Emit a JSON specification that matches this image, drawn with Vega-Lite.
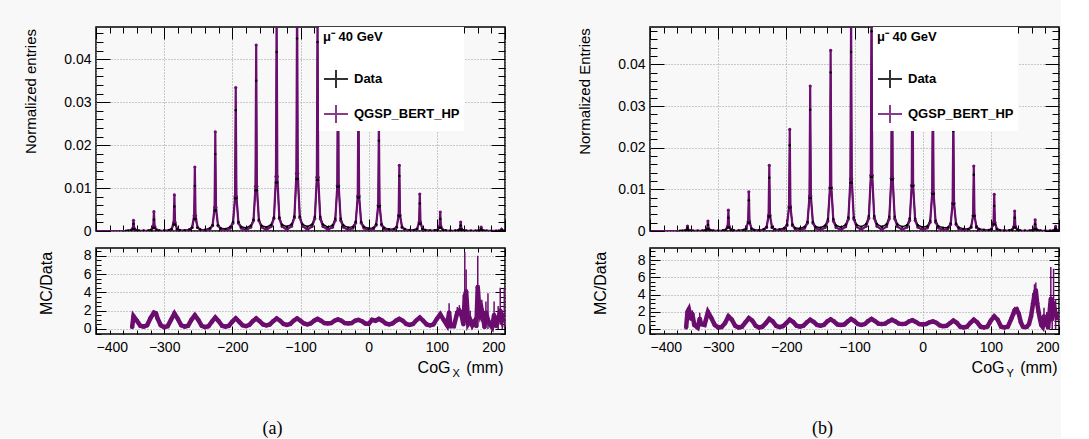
{
"$schema": "https://vega.github.io/schema/vega-lite/v6.json",
"background": "#f8f8f8",
"padding": {"left": 22, "top": 25, "right": 0, "bottom": 0},
"config": {
  "font": "Liberation Sans",
  "view": {"stroke": "black", "strokeWidth": 1.5, "fill": null},
  "axis": {"domain": false, "labelFont": "Liberation Sans", "labelFontSize": 14, "labelColor": "black", "titleFont": "Liberation Sans", "titleFontSize": 16, "titleFontWeight": "normal", "titleColor": "black", "tickColor": "black", "tickWidth": 1, "gridColor": "#9a9a9a", "gridDash": [1, 2], "gridWidth": 1}
},
"datasets": {
"ha": [
{"x":-400,"m":0,"d":0},{"x":-356,"m":0,"d":0},
{"x":-353,"m":0.00005,"d":0.00006},{"x":-349,"m":0.00014,"d":0.00013},{"x":-346,"m":0.0006,"d":0.00046},{"x":-345,"m":0.0025,"d":0.0017},{"x":-344,"m":0.0006,"d":0.00046},{"x":-341,"m":0.00014,"d":0.00013},{"x":-337,"m":0.00005,"d":0.00006},{"x":-330,"m":0.00003,"d":0.00005},
{"x":-323,"m":0.00009,"d":0.00009},{"x":-319,"m":0.00025,"d":0.0002},{"x":-316,"m":0.00108,"d":0.0007},{"x":-315,"m":0.0045,"d":0.0026},{"x":-314,"m":0.00108,"d":0.0007},{"x":-311,"m":0.00025,"d":0.0002},{"x":-307,"m":0.00009,"d":0.00009},{"x":-300,"m":0.00005,"d":0.0001},
{"x":-293,"m":0.00017,"d":0.0002},{"x":-289,"m":0.00046,"d":0.00043},{"x":-286,"m":0.002,"d":0.0015},{"x":-285,"m":0.0084,"d":0.0057},{"x":-284,"m":0.002,"d":0.0015},{"x":-281,"m":0.00046,"d":0.00043},{"x":-277,"m":0.00017,"d":0.0002},{"x":-270,"m":0.0001,"d":0.00015},
{"x":-263,"m":0.0003,"d":0.00037},{"x":-259,"m":0.00082,"d":0.00079},{"x":-256,"m":0.0036,"d":0.0028},{"x":-255,"m":0.0149,"d":0.0105},{"x":-254,"m":0.0036,"d":0.0028},{"x":-251,"m":0.00082,"d":0.00079},{"x":-247,"m":0.0003,"d":0.00037},{"x":-240,"m":0.00012,"d":0.0003},
{"x":-233,"m":0.00046,"d":0.00063},{"x":-229,"m":0.00127,"d":0.00134},{"x":-226,"m":0.0055,"d":0.0048},{"x":-225,"m":0.0231,"d":0.0179},{"x":-224,"m":0.0055,"d":0.0048},{"x":-221,"m":0.00127,"d":0.00134},{"x":-217,"m":0.00046,"d":0.00063},{"x":-210,"m":0.00015,"d":0.0005},
{"x":-203,"m":0.00067,"d":0.00098},{"x":-199,"m":0.00184,"d":0.0021},{"x":-196,"m":0.008,"d":0.0076},{"x":-195,"m":0.0334,"d":0.0281},{"x":-194,"m":0.008,"d":0.0076},{"x":-191,"m":0.00184,"d":0.0021},{"x":-187,"m":0.00067,"d":0.00098},{"x":-180,"m":0.0002,"d":0.0007},
{"x":-173,"m":0.00087,"d":0.00123},{"x":-169,"m":0.00238,"d":0.00263},{"x":-166,"m":0.0104,"d":0.0095},{"x":-165,"m":0.0433,"d":0.035},{"x":-164,"m":0.0104,"d":0.0095},{"x":-161,"m":0.00238,"d":0.00263},{"x":-157,"m":0.00087,"d":0.00123},{"x":-150,"m":0.00025,"d":0.0009},
{"x":-143,"m":0.00106,"d":0.00146},{"x":-139,"m":0.00292,"d":0.00313},{"x":-136,"m":0.0127,"d":0.0113},{"x":-135,"m":0.053,"d":0.0417},{"x":-134,"m":0.0127,"d":0.0113},{"x":-131,"m":0.00292,"d":0.00313},{"x":-127,"m":0.00106,"d":0.00146},{"x":-120,"m":0.0003,"d":0.001},
{"x":-113,"m":0.00112,"d":0.00157},{"x":-109,"m":0.00308,"d":0.00336},{"x":-106,"m":0.0134,"d":0.0121},{"x":-105,"m":0.056,"d":0.0448},{"x":-104,"m":0.0134,"d":0.0121},{"x":-101,"m":0.00308,"d":0.00336},{"x":-97,"m":0.00112,"d":0.00157},{"x":-90,"m":0.0003,"d":0.001},
{"x":-83,"m":0.00104,"d":0.00154},{"x":-79,"m":0.00286,"d":0.0033},{"x":-76,"m":0.0125,"d":0.0119},{"x":-75,"m":0.052,"d":0.044},{"x":-74,"m":0.0125,"d":0.0119},{"x":-71,"m":0.00286,"d":0.0033},{"x":-67,"m":0.00104,"d":0.00154},{"x":-60,"m":0.0003,"d":0.0009},
{"x":-53,"m":0.00088,"d":0.00133},{"x":-49,"m":0.00242,"d":0.00285},{"x":-46,"m":0.0106,"d":0.0103},{"x":-45,"m":0.044,"d":0.038},{"x":-44,"m":0.0106,"d":0.0103},{"x":-41,"m":0.00242,"d":0.00285},{"x":-37,"m":0.00088,"d":0.00133},{"x":-30,"m":0.00025,"d":0.0008},
{"x":-23,"m":0.00068,"d":0.001},{"x":-19,"m":0.00187,"d":0.00218},{"x":-16,"m":0.0082,"d":0.0078},{"x":-15,"m":0.034,"d":0.029},{"x":-14,"m":0.0082,"d":0.0078},{"x":-11,"m":0.00187,"d":0.00218},{"x":-7,"m":0.00068,"d":0.001},{"x":0,"m":0.0002,"d":0.0006},
{"x":7,"m":0.0005,"d":0.00074},{"x":11,"m":0.00138,"d":0.00158},{"x":14,"m":0.006,"d":0.0057},{"x":15,"m":0.025,"d":0.021},{"x":16,"m":0.006,"d":0.0057},{"x":19,"m":0.00138,"d":0.00158},{"x":23,"m":0.0005,"d":0.00074},{"x":30,"m":0.00015,"d":0.0004},
{"x":37,"m":0.00031,"d":0.00045},{"x":41,"m":0.00084,"d":0.00096},{"x":44,"m":0.0037,"d":0.0035},{"x":45,"m":0.0153,"d":0.0128},{"x":46,"m":0.0037,"d":0.0035},{"x":49,"m":0.00084,"d":0.00096},{"x":53,"m":0.00031,"d":0.00045},{"x":60,"m":0.0001,"d":0.00025},
{"x":67,"m":0.00017,"d":0.00022},{"x":71,"m":0.00047,"d":0.00048},{"x":74,"m":0.0021,"d":0.0017},{"x":75,"m":0.0086,"d":0.0064},{"x":76,"m":0.0021,"d":0.0017},{"x":79,"m":0.00047,"d":0.00048},{"x":83,"m":0.00017,"d":0.00022},{"x":90,"m":0.00006,"d":0.00012},
{"x":97,"m":0.00009,"d":0.0001},{"x":101,"m":0.00024,"d":0.00021},{"x":104,"m":0.00106,"d":0.00076},{"x":105,"m":0.0044,"d":0.0028},{"x":106,"m":0.00106,"d":0.00076},{"x":109,"m":0.00024,"d":0.00021},{"x":113,"m":0.00009,"d":0.0001},{"x":120,"m":0.00003,"d":0.00005},
{"x":127,"m":0.00004,"d":0.00005},{"x":131,"m":0.00012,"d":0.0001},{"x":134,"m":0.0005,"d":0.00035},{"x":135,"m":0.0021,"d":0.0013},{"x":136,"m":0.0005,"d":0.00035},{"x":139,"m":0.00012,"d":0.0001},{"x":143,"m":0.00004,"d":0.00005},{"x":150,"m":0.00002,"d":0.00003},
{"x":157,"m":0.00002,"d":0.00002},{"x":161,"m":0.00005,"d":0.00004},{"x":164,"m":0.00022,"d":0.00014},{"x":165,"m":0.0009,"d":0.0005},{"x":166,"m":0.00022,"d":0.00014},{"x":169,"m":0.00005,"d":0.00004},{"x":173,"m":0.00002,"d":0.00002},{"x":180,"m":0.00001,"d":0.00001},
{"x":187,"m":0.00001,"d":0.00001},{"x":191,"m":0.00002,"d":0.00002},{"x":194,"m":0.0001,"d":0.00006},{"x":195,"m":0.0004,"d":0.0002},{"x":196,"m":0.0001,"d":0.00006},{"x":199,"m":0.00002,"d":0.00002},{"x":200,"m":0.00001,"d":0.00001}
],
"hb": [
{"x":-400,"m":0,"d":0},{"x":-356,"m":0,"d":0},
{"x":-353,"m":0.00002,"d":0.00003},{"x":-349,"m":0.00007,"d":0.00006},{"x":-346,"m":0.00029,"d":0.00022},{"x":-345,"m":0.0012,"d":0.0008},{"x":-344,"m":0.00029,"d":0.00022},{"x":-341,"m":0.00007,"d":0.00006},{"x":-337,"m":0.00002,"d":0.00003},{"x":-330,"m":0.00002,"d":0.00003},
{"x":-323,"m":0.00005,"d":0.00005},{"x":-319,"m":0.00013,"d":0.00011},{"x":-316,"m":0.00058,"d":0.0004},{"x":-315,"m":0.0024,"d":0.0015},{"x":-314,"m":0.00058,"d":0.0004},{"x":-311,"m":0.00013,"d":0.00011},{"x":-307,"m":0.00005,"d":0.00005},{"x":-300,"m":0.00003,"d":0.00006},
{"x":-293,"m":0.0001,"d":0.00011},{"x":-289,"m":0.00028,"d":0.00024},{"x":-286,"m":0.0012,"d":0.00086},{"x":-285,"m":0.005,"d":0.0032},{"x":-284,"m":0.0012,"d":0.00086},{"x":-281,"m":0.00028,"d":0.00024},{"x":-277,"m":0.0001,"d":0.00011},{"x":-270,"m":0.00006,"d":0.0001},
{"x":-263,"m":0.00019,"d":0.00026},{"x":-259,"m":0.00052,"d":0.00056},{"x":-256,"m":0.00226,"d":0.002},{"x":-255,"m":0.0094,"d":0.0074},{"x":-254,"m":0.00226,"d":0.002},{"x":-251,"m":0.00052,"d":0.00056},{"x":-247,"m":0.00019,"d":0.00026},{"x":-240,"m":0.0001,"d":0.0002},
{"x":-233,"m":0.00032,"d":0.00045},{"x":-229,"m":0.00087,"d":0.00096},{"x":-226,"m":0.0038,"d":0.0035},{"x":-225,"m":0.0158,"d":0.0128},{"x":-224,"m":0.0038,"d":0.0035},{"x":-221,"m":0.00087,"d":0.00096},{"x":-217,"m":0.00032,"d":0.00045},{"x":-210,"m":0.00012,"d":0.0004},
{"x":-203,"m":0.00049,"d":0.00072},{"x":-199,"m":0.00134,"d":0.00155},{"x":-196,"m":0.0059,"d":0.0056},{"x":-195,"m":0.0244,"d":0.0206},{"x":-194,"m":0.0059,"d":0.0056},{"x":-191,"m":0.00134,"d":0.00155},{"x":-187,"m":0.00049,"d":0.00072},{"x":-180,"m":0.00015,"d":0.0006},
{"x":-173,"m":0.0007,"d":0.00102},{"x":-169,"m":0.00191,"d":0.00218},{"x":-166,"m":0.0084,"d":0.0079},{"x":-165,"m":0.0348,"d":0.0291},{"x":-164,"m":0.0084,"d":0.0079},{"x":-161,"m":0.00191,"d":0.00218},{"x":-157,"m":0.0007,"d":0.00102},{"x":-150,"m":0.0002,"d":0.0008},
{"x":-143,"m":0.00087,"d":0.00133},{"x":-139,"m":0.00239,"d":0.00286},{"x":-136,"m":0.0104,"d":0.0103},{"x":-135,"m":0.0434,"d":0.0381},{"x":-134,"m":0.0104,"d":0.0103},{"x":-131,"m":0.00239,"d":0.00286},{"x":-127,"m":0.00087,"d":0.00133},{"x":-120,"m":0.00025,"d":0.0009},
{"x":-113,"m":0.00104,"d":0.0015},{"x":-109,"m":0.00286,"d":0.00323},{"x":-106,"m":0.0125,"d":0.0116},{"x":-105,"m":0.052,"d":0.043},{"x":-104,"m":0.0125,"d":0.0116},{"x":-101,"m":0.00286,"d":0.00323},{"x":-97,"m":0.00104,"d":0.0015},{"x":-90,"m":0.0003,"d":0.001},
{"x":-83,"m":0.00112,"d":0.00168},{"x":-79,"m":0.00308,"d":0.0036},{"x":-76,"m":0.0134,"d":0.013},{"x":-75,"m":0.056,"d":0.048},{"x":-74,"m":0.0134,"d":0.013},{"x":-71,"m":0.00308,"d":0.0036},{"x":-67,"m":0.00112,"d":0.00168},{"x":-60,"m":0.0003,"d":0.001},
{"x":-53,"m":0.00106,"d":0.00161},{"x":-49,"m":0.00292,"d":0.00345},{"x":-46,"m":0.0127,"d":0.0124},{"x":-45,"m":0.053,"d":0.046},{"x":-44,"m":0.0127,"d":0.0124},{"x":-41,"m":0.00292,"d":0.00345},{"x":-37,"m":0.00106,"d":0.00161},{"x":-30,"m":0.0003,"d":0.001},
{"x":-23,"m":0.00092,"d":0.0014},{"x":-19,"m":0.00253,"d":0.003},{"x":-16,"m":0.011,"d":0.0108},{"x":-15,"m":0.046,"d":0.04},{"x":-14,"m":0.011,"d":0.0108},{"x":-11,"m":0.00253,"d":0.003},{"x":-7,"m":0.00092,"d":0.0014},{"x":0,"m":0.00025,"d":0.0009},
{"x":7,"m":0.00076,"d":0.00116},{"x":11,"m":0.00209,"d":0.00248},{"x":14,"m":0.0091,"d":0.0089},{"x":15,"m":0.038,"d":0.033},{"x":16,"m":0.0091,"d":0.0089},{"x":19,"m":0.00209,"d":0.00248},{"x":23,"m":0.00076,"d":0.00116},{"x":30,"m":0.0002,"d":0.0008},
{"x":37,"m":0.00056,"d":0.00084},{"x":41,"m":0.00154,"d":0.0018},{"x":44,"m":0.0067,"d":0.0065},{"x":45,"m":0.028,"d":0.024},{"x":46,"m":0.0067,"d":0.0065},{"x":49,"m":0.00154,"d":0.0018},{"x":53,"m":0.00056,"d":0.00084},{"x":60,"m":0.00015,"d":0.0005},
{"x":67,"m":0.00031,"d":0.00047},{"x":71,"m":0.00086,"d":0.00101},{"x":74,"m":0.0037,"d":0.0036},{"x":75,"m":0.0156,"d":0.0135},{"x":76,"m":0.0037,"d":0.0036},{"x":79,"m":0.00086,"d":0.00101},{"x":83,"m":0.00031,"d":0.00047},{"x":90,"m":0.0001,"d":0.0003},
{"x":97,"m":0.00018,"d":0.00021},{"x":101,"m":0.00048,"d":0.00045},{"x":104,"m":0.0021,"d":0.0016},{"x":105,"m":0.0088,"d":0.006},{"x":106,"m":0.0021,"d":0.0016},{"x":109,"m":0.00048,"d":0.00045},{"x":113,"m":0.00018,"d":0.00021},{"x":120,"m":0.00005,"d":0.00012},
{"x":127,"m":0.0001,"d":0.00011},{"x":131,"m":0.00026,"d":0.00024},{"x":134,"m":0.00115,"d":0.00086},{"x":135,"m":0.0048,"d":0.0032},{"x":136,"m":0.00115,"d":0.00086},{"x":139,"m":0.00026,"d":0.00024},{"x":143,"m":0.0001,"d":0.00011},{"x":150,"m":0.00003,"d":0.00006},
{"x":157,"m":0.00005,"d":0.00006},{"x":161,"m":0.00015,"d":0.00012},{"x":164,"m":0.00065,"d":0.00043},{"x":165,"m":0.0027,"d":0.0016},{"x":166,"m":0.00065,"d":0.00043},{"x":169,"m":0.00015,"d":0.00012},{"x":173,"m":0.00005,"d":0.00006},{"x":180,"m":0.00002,"d":0.00003},
{"x":187,"m":0.00002,"d":0.00002},{"x":191,"m":0.00006,"d":0.00005},{"x":194,"m":0.00026,"d":0.00016},{"x":195,"m":0.0011,"d":0.0006},{"x":196,"m":0.00026,"d":0.00016},{"x":199,"m":0.00006,"d":0.00005},{"x":200,"m":0.00001,"d":0.00001}
],
"ra": [
{"x":-347,"r":0.2},{"x":-345,"r":1.4},{"x":-340,"r":0.9},{"x":-335,"r":0.35},{"x":-330,"r":0.25},{"x":-325,"r":0.4},{"x":-320,"r":1.2},{"x":-315,"r":1.8},{"x":-312,"r":1.7},{"x":-310,"r":1.2},
{"x":-305,"r":0.4},{"x":-300,"r":0.2},{"x":-295,"r":0.3},{"x":-290,"r":1.0},{"x":-285,"r":1.7},{"x":-280,"r":1.1},{"x":-275,"r":0.4},{"x":-270,"r":0.25},{"x":-265,"r":0.35},{"x":-260,"r":1.0},
{"x":-255,"r":1.5},{"x":-250,"r":1.0},{"x":-245,"r":0.35},{"x":-240,"r":0.2},{"x":-235,"r":0.3},{"x":-230,"r":0.8},{"x":-225,"r":1.25},{"x":-220,"r":0.85},{"x":-215,"r":0.35},{"x":-210,"r":0.25},
{"x":-205,"r":0.35},{"x":-200,"r":0.8},{"x":-195,"r":1.15},{"x":-190,"r":0.8},{"x":-185,"r":0.4},{"x":-180,"r":0.3},{"x":-175,"r":0.45},{"x":-170,"r":0.85},{"x":-165,"r":1.15},{"x":-160,"r":0.85},
{"x":-155,"r":0.5},{"x":-150,"r":0.4},{"x":-145,"r":0.5},{"x":-140,"r":0.85},{"x":-135,"r":1.15},{"x":-130,"r":0.9},{"x":-125,"r":0.55},{"x":-120,"r":0.45},{"x":-115,"r":0.55},{"x":-110,"r":0.9},
{"x":-105,"r":1.15},{"x":-100,"r":0.9},{"x":-95,"r":0.6},{"x":-90,"r":0.5},{"x":-85,"r":0.6},{"x":-80,"r":0.9},{"x":-75,"r":1.1},{"x":-70,"r":0.9},{"x":-65,"r":0.65},{"x":-60,"r":0.6},
{"x":-55,"r":0.65},{"x":-50,"r":0.9},{"x":-45,"r":1.05},{"x":-40,"r":0.9},{"x":-35,"r":0.65},{"x":-30,"r":0.6},{"x":-25,"r":0.65},{"x":-20,"r":0.9},{"x":-15,"r":1.0},{"x":-10,"r":0.85},
{"x":-5,"r":0.6},{"x":0,"r":0.55},{"x":5,"r":1.0},{"x":10,"r":0.9},{"x":15,"r":1.1},{"x":20,"r":0.9},{"x":25,"r":0.6},{"x":30,"r":0.5},{"x":35,"r":0.6},{"x":40,"r":0.9},
{"x":45,"r":1.1},{"x":50,"r":0.9},{"x":55,"r":0.55},{"x":60,"r":0.45},{"x":65,"r":0.55},{"x":70,"r":0.95},{"x":75,"r":1.25},{"x":80,"r":0.9},{"x":85,"r":0.5},{"x":90,"r":0.4},
{"x":95,"r":0.5},{"x":100,"r":1.1},{"x":105,"r":1.6},{"x":110,"r":1.0},{"x":115,"r":0.4},{"x":118,"r":1.8},{"x":120,"r":0.3},{"x":125,"r":0.3},{"x":130,"r":1.8},{"x":133,"r":2.0},
{"x":136,"r":1.6},{"x":139,"r":0.5},{"x":141,"r":3.6},{"x":143,"r":4.1},{"x":146,"r":0.6},{"x":149,"r":1.0},{"x":152,"r":0.4},{"x":155,"r":0.8},{"x":158,"r":0.3},{"x":160,"r":4.6},
{"x":162,"r":2.5},{"x":164,"r":1.6},{"x":166,"r":2.0},{"x":168,"r":1.2},{"x":170,"r":0.2},{"x":172,"r":1.8},{"x":175,"r":1.0},{"x":178,"r":0.5},{"x":181,"r":0.2},{"x":184,"r":1.5},
{"x":187,"r":0.3},{"x":190,"r":1.0},{"x":193,"r":2.0},{"x":196,"r":1.0},{"x":199,"r":1.5}
],
"rb": [
{"x":-347,"r":0.2},{"x":-345,"r":2.0},{"x":-343,"r":2.3},{"x":-340,"r":1.2},{"x":-338,"r":1.8},{"x":-335,"r":0.5},{"x":-330,"r":0.2},{"x":-327,"r":1.2},{"x":-325,"r":0.6},{"x":-320,"r":0.5},
{"x":-315,"r":2.0},{"x":-310,"r":1.3},{"x":-305,"r":0.5},{"x":-300,"r":0.2},{"x":-295,"r":0.25},{"x":-290,"r":0.7},{"x":-285,"r":1.5},{"x":-280,"r":1.1},{"x":-275,"r":0.4},{"x":-270,"r":0.2},
{"x":-265,"r":0.3},{"x":-260,"r":0.8},{"x":-255,"r":1.3},{"x":-250,"r":1.0},{"x":-245,"r":0.4},{"x":-240,"r":0.2},{"x":-235,"r":0.3},{"x":-230,"r":0.7},{"x":-225,"r":1.2},{"x":-220,"r":0.9},
{"x":-215,"r":0.4},{"x":-210,"r":0.25},{"x":-205,"r":0.35},{"x":-200,"r":0.7},{"x":-195,"r":1.1},{"x":-190,"r":0.85},{"x":-185,"r":0.4},{"x":-180,"r":0.3},{"x":-175,"r":0.4},{"x":-170,"r":0.8},
{"x":-165,"r":1.1},{"x":-160,"r":0.85},{"x":-155,"r":0.5},{"x":-150,"r":0.4},{"x":-145,"r":0.5},{"x":-140,"r":0.9},{"x":-135,"r":1.15},{"x":-130,"r":0.9},{"x":-125,"r":0.55},{"x":-120,"r":0.5},
{"x":-115,"r":0.55},{"x":-110,"r":0.9},{"x":-105,"r":1.2},{"x":-100,"r":0.95},{"x":-95,"r":0.6},{"x":-90,"r":0.5},{"x":-85,"r":0.6},{"x":-80,"r":0.95},{"x":-75,"r":1.2},{"x":-70,"r":0.95},
{"x":-65,"r":0.65},{"x":-60,"r":0.6},{"x":-55,"r":0.65},{"x":-50,"r":0.9},{"x":-45,"r":1.1},{"x":-40,"r":0.9},{"x":-35,"r":0.65},{"x":-30,"r":0.6},{"x":-25,"r":0.65},{"x":-20,"r":0.9},
{"x":-15,"r":1.05},{"x":-10,"r":0.85},{"x":-5,"r":0.6},{"x":0,"r":0.55},{"x":5,"r":0.6},{"x":10,"r":0.8},{"x":15,"r":0.9},{"x":20,"r":0.75},{"x":25,"r":0.45},{"x":30,"r":0.35},
{"x":35,"r":0.4},{"x":40,"r":0.7},{"x":45,"r":1.0},{"x":50,"r":0.75},{"x":55,"r":0.3},{"x":60,"r":0.2},{"x":65,"r":0.3},{"x":70,"r":0.75},{"x":75,"r":1.1},{"x":80,"r":0.8},
{"x":85,"r":0.3},{"x":90,"r":0.2},{"x":95,"r":0.3},{"x":100,"r":1.0},{"x":105,"r":1.5},{"x":110,"r":1.1},{"x":115,"r":0.3},{"x":120,"r":0.2},{"x":125,"r":0.3},{"x":130,"r":1.2},
{"x":135,"r":2.2},{"x":138,"r":2.3},{"x":141,"r":1.8},{"x":144,"r":0.8},{"x":147,"r":0.3},{"x":150,"r":0.25},{"x":153,"r":0.3},{"x":156,"r":0.6},{"x":159,"r":1.5},{"x":162,"r":3.0},
{"x":164,"r":4.0},{"x":166,"r":4.5},{"x":168,"r":3.0},{"x":170,"r":2.0},{"x":172,"r":1.2},{"x":174,"r":0.5},{"x":176,"r":0.3},{"x":178,"r":1.5},{"x":180,"r":0.5},{"x":182,"r":1.0},
{"x":184,"r":0.2},{"x":186,"r":1.8},{"x":188,"r":3.5},{"x":190,"r":1.2},{"x":192,"r":3.0},{"x":195,"r":1.8},{"x":198,"r":1.3},{"x":200,"r":1.3}
],
"ea": [
{"x":118,"r":1.8,"lo":1.2,"hi":2.8},{"x":130,"r":1.8,"lo":1.2,"hi":2.4},{"x":133,"r":2.0,"lo":1.4,"hi":2.6},{"x":141,"r":3.6,"lo":1.5,"hi":8.4},{"x":143,"r":4.1,"lo":1.0,"hi":6.5},{"x":149,"r":1.0,"lo":0.3,"hi":2.0},{"x":160,"r":4.6,"lo":1.5,"hi":8.0},{"x":162,"r":2.5,"lo":1.2,"hi":4.0},
{"x":166,"r":2.0,"lo":0.8,"hi":3.2},{"x":172,"r":1.8,"lo":0.5,"hi":3.0},{"x":175,"r":1.0,"lo":0,"hi":3.9},{"x":184,"r":1.5,"lo":0.3,"hi":3.0},{"x":190,"r":1.0,"lo":0,"hi":2.5},{"x":193,"r":2.0,"lo":0.5,"hi":4.5},{"x":196,"r":1.0,"lo":0,"hi":2.0},{"x":199,"r":1.5,"lo":0.2,"hi":4.5}
],
"eb": [
{"x":-343,"r":2.3,"lo":1.5,"hi":2.5},{"x":-338,"r":1.8,"lo":1.0,"hi":2.2},{"x":-327,"r":1.2,"lo":0.9,"hi":1.9},{"x":135,"r":2.2,"lo":1.6,"hi":2.6},{"x":138,"r":2.3,"lo":1.8,"hi":2.6},{"x":162,"r":3.0,"lo":2.0,"hi":4.2},{"x":164,"r":4.0,"lo":2.8,"hi":5.2},{"x":166,"r":4.5,"lo":3.5,"hi":5.4},
{"x":168,"r":3.0,"lo":2.0,"hi":4.5},{"x":178,"r":1.5,"lo":0.5,"hi":2.5},{"x":182,"r":1.0,"lo":0,"hi":2.0},{"x":186,"r":1.8,"lo":0,"hi":3.0},{"x":188,"r":3.5,"lo":0.8,"hi":7.2},{"x":190,"r":1.2,"lo":0,"hi":2.5},{"x":192,"r":3.0,"lo":1.0,"hi":7.0},{"x":195,"r":1.8,"lo":0,"hi":3.5}
]
},
"bounds": "flush",
"columns": 2,
"spacing": {"row": 17, "column": 145},
"resolve": {"scale": {"color": "independent"}, "legend": {"color": "independent"}},
"concat": [
{
"width": 409, "height": 204,
"data": {"name": "ha"},
"layer": [
{"mark": {"type": "line", "strokeWidth": 1.4, "clip": true},
 "encoding": {
  "x": {"field": "x", "type": "quantitative", "scale": {"domain": [-400, 200], "nice": false, "zero": false}, "axis": {"orient": "bottom", "values": [-400, -300, -200, -100, 0, 100, 200], "labels": false, "tickSize": -12, "grid": true, "title": null}},
  "y": {"field": "d", "type": "quantitative", "scale": {"domain": [0, 0.0475], "nice": false, "zero": false}, "axis": {"orient": "left", "values": [0, 0.01, 0.02, 0.03, 0.04], "format": "~g", "tickSize": -14, "labelPadding": 19, "grid": true, "title": "Normalized entries", "titleFontSize": 15, "titleX": -66, "titleY": 64, "titleAngle": 270, "titleAlign": "center", "titleBaseline": "middle"}},
  "color": {"datum": "Data", "type": "nominal", "scale": {"domain": ["Data", "QGSP_BERT_HP"], "range": ["black", "#6b0d6e"]},
   "legend": {"orient": "none", "legendX": 223, "legendY": 0, "title": "\u03bc\u207b 40 GeV", "fillColor": "white", "padding": 4, "symbolType": "M-1,0H1M0,-0.75V0.75", "symbolSize": 576, "symbolStrokeWidth": 2, "symbolOpacity": 0.8, "rowPadding": 9, "titlePadding": 22, "labelOffset": 5, "labelFont": "Liberation Sans", "labelFontSize": 13, "labelFontWeight": "bold", "labelColor": "black", "titleFont": "Liberation Sans", "titleFontSize": 13, "titleFontWeight": "bold", "titleColor": "black"}}
 }},
{"mark": {"type": "line", "strokeWidth": 2.2, "clip": true},
 "encoding": {
  "x": {"field": "x", "type": "quantitative", "scale": {"domain": [-400, 200], "nice": false, "zero": false}, "axis": {"orient": "bottom", "values": [-380, -360, -340, -320, -280, -260, -240, -220, -180, -160, -140, -120, -80, -60, -40, -20, 20, 40, 60, 80, 120, 140, 160, 180], "labels": false, "tickSize": -6, "grid": false, "title": null}},
  "y": {"field": "m", "type": "quantitative", "scale": {"domain": [0, 0.0475], "nice": false, "zero": false}, "axis": {"orient": "left", "values": [0.002, 0.004, 0.006, 0.008, 0.012, 0.014, 0.016, 0.018, 0.022, 0.024, 0.026, 0.028, 0.032, 0.034, 0.036, 0.038, 0.042, 0.044, 0.046], "labels": false, "tickSize": -7, "grid": false, "title": null}},
  "color": {"datum": "QGSP_BERT_HP", "type": "nominal", "scale": {"domain": ["Data", "QGSP_BERT_HP"], "range": ["black", "#6b0d6e"]},
   "legend": {"orient": "none", "legendX": 223, "legendY": 0, "title": "\u03bc\u207b 40 GeV", "fillColor": "white", "padding": 4, "symbolType": "M-1,0H1M0,-0.75V0.75", "symbolSize": 576, "symbolStrokeWidth": 2, "symbolOpacity": 0.8, "rowPadding": 9, "titlePadding": 22, "labelOffset": 5, "labelFont": "Liberation Sans", "labelFontSize": 13, "labelFontWeight": "bold", "labelColor": "black", "titleFont": "Liberation Sans", "titleFontSize": 13, "titleFontWeight": "bold", "titleColor": "black"}}
 }},
{"mark": {"type": "point", "filled": true, "size": 10, "opacity": 1, "color": "#6b0d6e", "clip": true},
 "encoding": {
  "x": {"field": "x", "type": "quantitative", "scale": {"domain": [-400, 200], "nice": false, "zero": false}, "axis": {"orient": "top", "values": [-400, -300, -200, -100, 0, 100, 200], "labels": false, "tickSize": -12, "grid": false, "title": null}},
  "y": {"field": "m", "type": "quantitative", "scale": {"domain": [0, 0.0475], "nice": false, "zero": false}, "axis": {"orient": "right", "values": [0, 0.01, 0.02, 0.03, 0.04], "labels": false, "tickSize": -14, "grid": false, "title": null}}
 }},
{"mark": {"type": "point", "filled": true, "size": 6, "opacity": 1, "color": "black", "clip": true},
 "encoding": {
  "x": {"field": "x", "type": "quantitative", "scale": {"domain": [-400, 200], "nice": false, "zero": false}, "axis": {"orient": "top", "values": [-380, -360, -340, -320, -280, -260, -240, -220, -180, -160, -140, -120, -80, -60, -40, -20, 20, 40, 60, 80, 120, 140, 160, 180], "labels": false, "tickSize": -6, "grid": false, "title": null}},
  "y": {"field": "d", "type": "quantitative", "scale": {"domain": [0, 0.0475], "nice": false, "zero": false}, "axis": {"orient": "right", "values": [0.002, 0.004, 0.006, 0.008, 0.012, 0.014, 0.016, 0.018, 0.022, 0.024, 0.026, 0.028, 0.032, 0.034, 0.036, 0.038, 0.042, 0.044, 0.046], "labels": false, "tickSize": -7, "grid": false, "title": null}}
 }}
],
"resolve": {"axis": {"x": "independent", "y": "independent"}}
},
{
"width": 409, "height": 204,
"data": {"name": "hb"},
"layer": [
{"mark": {"type": "line", "strokeWidth": 1.4, "clip": true},
 "encoding": {
  "x": {"field": "x", "type": "quantitative", "scale": {"domain": [-400, 200], "nice": false, "zero": false}, "axis": {"orient": "bottom", "values": [-400, -300, -200, -100, 0, 100, 200], "labels": false, "tickSize": -12, "grid": true, "title": null}},
  "y": {"field": "d", "type": "quantitative", "scale": {"domain": [0, 0.049], "nice": false, "zero": false}, "axis": {"orient": "left", "values": [0, 0.01, 0.02, 0.03, 0.04], "format": "~g", "tickSize": -14, "labelPadding": 19, "grid": true, "title": "Normalized Entries", "titleFontSize": 15, "titleX": -66, "titleY": 64, "titleAngle": 270, "titleAlign": "center", "titleBaseline": "middle"}},
  "color": {"datum": "Data", "type": "nominal", "scale": {"domain": ["Data", "QGSP_BERT_HP"], "range": ["black", "#6b0d6e"]},
   "legend": {"orient": "none", "legendX": 223, "legendY": 0, "title": "\u03bc\u207b 40 GeV", "fillColor": "white", "padding": 4, "symbolType": "M-1,0H1M0,-0.75V0.75", "symbolSize": 576, "symbolStrokeWidth": 2, "symbolOpacity": 0.8, "rowPadding": 9, "titlePadding": 22, "labelOffset": 5, "labelFont": "Liberation Sans", "labelFontSize": 13, "labelFontWeight": "bold", "labelColor": "black", "titleFont": "Liberation Sans", "titleFontSize": 13, "titleFontWeight": "bold", "titleColor": "black"}}
 }},
{"mark": {"type": "line", "strokeWidth": 2.2, "clip": true},
 "encoding": {
  "x": {"field": "x", "type": "quantitative", "scale": {"domain": [-400, 200], "nice": false, "zero": false}, "axis": {"orient": "bottom", "values": [-380, -360, -340, -320, -280, -260, -240, -220, -180, -160, -140, -120, -80, -60, -40, -20, 20, 40, 60, 80, 120, 140, 160, 180], "labels": false, "tickSize": -6, "grid": false, "title": null}},
  "y": {"field": "m", "type": "quantitative", "scale": {"domain": [0, 0.049], "nice": false, "zero": false}, "axis": {"orient": "left", "values": [0.002, 0.004, 0.006, 0.008, 0.012, 0.014, 0.016, 0.018, 0.022, 0.024, 0.026, 0.028, 0.032, 0.034, 0.036, 0.038, 0.042, 0.044, 0.046, 0.048], "labels": false, "tickSize": -7, "grid": false, "title": null}},
  "color": {"datum": "QGSP_BERT_HP", "type": "nominal", "scale": {"domain": ["Data", "QGSP_BERT_HP"], "range": ["black", "#6b0d6e"]},
   "legend": {"orient": "none", "legendX": 223, "legendY": 0, "title": "\u03bc\u207b 40 GeV", "fillColor": "white", "padding": 4, "symbolType": "M-1,0H1M0,-0.75V0.75", "symbolSize": 576, "symbolStrokeWidth": 2, "symbolOpacity": 0.8, "rowPadding": 9, "titlePadding": 22, "labelOffset": 5, "labelFont": "Liberation Sans", "labelFontSize": 13, "labelFontWeight": "bold", "labelColor": "black", "titleFont": "Liberation Sans", "titleFontSize": 13, "titleFontWeight": "bold", "titleColor": "black"}}
 }},
{"mark": {"type": "point", "filled": true, "size": 10, "opacity": 1, "color": "#6b0d6e", "clip": true},
 "encoding": {
  "x": {"field": "x", "type": "quantitative", "scale": {"domain": [-400, 200], "nice": false, "zero": false}, "axis": {"orient": "top", "values": [-400, -300, -200, -100, 0, 100, 200], "labels": false, "tickSize": -12, "grid": false, "title": null}},
  "y": {"field": "m", "type": "quantitative", "scale": {"domain": [0, 0.049], "nice": false, "zero": false}, "axis": {"orient": "right", "values": [0, 0.01, 0.02, 0.03, 0.04], "labels": false, "tickSize": -14, "grid": false, "title": null}}
 }},
{"mark": {"type": "point", "filled": true, "size": 6, "opacity": 1, "color": "black", "clip": true},
 "encoding": {
  "x": {"field": "x", "type": "quantitative", "scale": {"domain": [-400, 200], "nice": false, "zero": false}, "axis": {"orient": "top", "values": [-380, -360, -340, -320, -280, -260, -240, -220, -180, -160, -140, -120, -80, -60, -40, -20, 20, 40, 60, 80, 120, 140, 160, 180], "labels": false, "tickSize": -6, "grid": false, "title": null}},
  "y": {"field": "d", "type": "quantitative", "scale": {"domain": [0, 0.049], "nice": false, "zero": false}, "axis": {"orient": "right", "values": [0.002, 0.004, 0.006, 0.008, 0.012, 0.014, 0.016, 0.018, 0.022, 0.024, 0.026, 0.028, 0.032, 0.034, 0.036, 0.038, 0.042, 0.044, 0.046, 0.048], "labels": false, "tickSize": -7, "grid": false, "title": null}}
 }}
],
"resolve": {"axis": {"x": "independent", "y": "independent"}}
},
{
"width": 409, "height": 86,
"layer": [
{"data": {"name": "ra"}, "mark": {"type": "line", "color": "#6b0d6e", "strokeWidth": 4.5, "clip": true},
 "encoding": {
  "x": {"field": "x", "type": "quantitative", "scale": {"domain": [-400, 200], "nice": false, "zero": false}, "axis": {"orient": "bottom", "values": [-400, -300, -200, -100, 0, 100, 200], "format": "d", "tickSize": -8, "labelPadding": 14, "grid": true, "title": "(mm)", "titleX": 407, "titleY": 38, "titleAlign": "right", "titleBaseline": "alphabetic"}},
  "y": {"field": "r", "type": "quantitative", "scale": {"domain": [-0.55, 8.85], "nice": false, "zero": false}, "axis": {"orient": "left", "values": [0, 2, 4, 6, 8], "format": "d", "tickSize": -10, "labelPadding": 15, "grid": true, "title": "MC/Data", "titleX": -50, "titleY": 35, "titleAngle": 270, "titleAlign": "center", "titleBaseline": "middle"}}
 }},
{"data": {"name": "ea"}, "mark": {"type": "rule", "color": "#6b0d6e", "strokeWidth": 1.5, "clip": true},
 "encoding": {
  "x": {"field": "x", "type": "quantitative", "scale": {"domain": [-400, 200], "nice": false, "zero": false}, "axis": {"orient": "bottom", "values": [-380, -360, -340, -320, -280, -260, -240, -220, -180, -160, -140, -120, -80, -60, -40, -20, 20, 40, 60, 80, 120, 140, 160, 180], "labels": false, "tickSize": -4, "grid": false, "title": "(a)", "titleFont": "Liberation Serif", "titleFontSize": 18, "titleX": 176, "titleY": 94, "titleAlign": "center", "titleBaseline": "middle"}},
  "y": {"field": "lo", "type": "quantitative", "scale": {"domain": [-0.55, 8.85], "nice": false, "zero": false}, "axis": {"orient": "left", "values": [-0.5, 0.5, 1, 1.5, 2.5, 3, 3.5, 4.5, 5, 5.5, 6.5, 7, 7.5, 8.5], "labels": false, "tickSize": -5, "grid": false, "title": null}},
  "y2": {"field": "hi"}
 }},
{"data": {"name": "ra"}, "mark": {"type": "point", "filled": true, "size": 18, "opacity": 1, "color": "#6b0d6e", "clip": true},
 "encoding": {
  "x": {"field": "x", "type": "quantitative", "scale": {"domain": [-400, 200], "nice": false, "zero": false}, "axis": {"orient": "top", "values": [-400, -300, -200, -100, 0, 100, 200], "labels": false, "tickSize": -8, "grid": false, "title": "CoG", "titleX": 354, "titleY": 124, "titleAlign": "right", "titleBaseline": "alphabetic"}},
  "y": {"field": "r", "type": "quantitative", "scale": {"domain": [-0.55, 8.85], "nice": false, "zero": false}, "axis": {"orient": "right", "values": [0, 2, 4, 6, 8], "labels": false, "tickSize": -10, "grid": false, "title": null}}
 }},
{"data": {"name": "ea"}, "mark": {"type": "point", "filled": true, "size": 18, "opacity": 1, "color": "#6b0d6e", "clip": true},
 "encoding": {
  "x": {"field": "x", "type": "quantitative", "scale": {"domain": [-400, 200], "nice": false, "zero": false}, "axis": {"orient": "top", "values": [-380, -360, -340, -320, -280, -260, -240, -220, -180, -160, -140, -120, -80, -60, -40, -20, 20, 40, 60, 80, 120, 140, 160, 180], "labels": false, "tickSize": -4, "grid": false, "title": "X", "titleFontSize": 11, "titleX": 356, "titleY": 128, "titleAlign": "left", "titleBaseline": "alphabetic"}},
  "y": {"field": "r", "type": "quantitative", "scale": {"domain": [-0.55, 8.85], "nice": false, "zero": false}, "axis": {"orient": "right", "values": [-0.5, 0.5, 1, 1.5, 2.5, 3, 3.5, 4.5, 5, 5.5, 6.5, 7, 7.5, 8.5], "labels": false, "tickSize": -5, "grid": false, "title": null}}
 }}
],
"resolve": {"axis": {"x": "independent", "y": "independent"}}
},
{
"width": 409, "height": 86,
"layer": [
{"data": {"name": "rb"}, "mark": {"type": "line", "color": "#6b0d6e", "strokeWidth": 4.5, "clip": true},
 "encoding": {
  "x": {"field": "x", "type": "quantitative", "scale": {"domain": [-400, 200], "nice": false, "zero": false}, "axis": {"orient": "bottom", "values": [-400, -300, -200, -100, 0, 100, 200], "format": "d", "tickSize": -8, "labelPadding": 14, "grid": true, "title": "(mm)", "titleX": 407, "titleY": 38, "titleAlign": "right", "titleBaseline": "alphabetic"}},
  "y": {"field": "r", "type": "quantitative", "scale": {"domain": [-0.55, 9.4], "nice": false, "zero": false}, "axis": {"orient": "left", "values": [0, 2, 4, 6, 8], "format": "d", "tickSize": -10, "labelPadding": 15, "grid": true, "title": "MC/Data", "titleX": -50, "titleY": 35, "titleAngle": 270, "titleAlign": "center", "titleBaseline": "middle"}}
 }},
{"data": {"name": "eb"}, "mark": {"type": "rule", "color": "#6b0d6e", "strokeWidth": 1.5, "clip": true},
 "encoding": {
  "x": {"field": "x", "type": "quantitative", "scale": {"domain": [-400, 200], "nice": false, "zero": false}, "axis": {"orient": "bottom", "values": [-380, -360, -340, -320, -280, -260, -240, -220, -180, -160, -140, -120, -80, -60, -40, -20, 20, 40, 60, 80, 120, 140, 160, 180], "labels": false, "tickSize": -4, "grid": false, "title": "(b)", "titleFont": "Liberation Serif", "titleFontSize": 18, "titleX": 172, "titleY": 94, "titleAlign": "center", "titleBaseline": "middle"}},
  "y": {"field": "lo", "type": "quantitative", "scale": {"domain": [-0.55, 9.4], "nice": false, "zero": false}, "axis": {"orient": "left", "values": [-0.5, 0.5, 1, 1.5, 2.5, 3, 3.5, 4.5, 5, 5.5, 6.5, 7, 7.5, 8.5, 9], "labels": false, "tickSize": -5, "grid": false, "title": null}},
  "y2": {"field": "hi"}
 }},
{"data": {"name": "rb"}, "mark": {"type": "point", "filled": true, "size": 18, "opacity": 1, "color": "#6b0d6e", "clip": true},
 "encoding": {
  "x": {"field": "x", "type": "quantitative", "scale": {"domain": [-400, 200], "nice": false, "zero": false}, "axis": {"orient": "top", "values": [-400, -300, -200, -100, 0, 100, 200], "labels": false, "tickSize": -8, "grid": false, "title": "CoG", "titleX": 354, "titleY": 124, "titleAlign": "right", "titleBaseline": "alphabetic"}},
  "y": {"field": "r", "type": "quantitative", "scale": {"domain": [-0.55, 9.4], "nice": false, "zero": false}, "axis": {"orient": "right", "values": [0, 2, 4, 6, 8], "labels": false, "tickSize": -10, "grid": false, "title": null}}
 }},
{"data": {"name": "eb"}, "mark": {"type": "point", "filled": true, "size": 18, "opacity": 1, "color": "#6b0d6e", "clip": true},
 "encoding": {
  "x": {"field": "x", "type": "quantitative", "scale": {"domain": [-400, 200], "nice": false, "zero": false}, "axis": {"orient": "top", "values": [-380, -360, -340, -320, -280, -260, -240, -220, -180, -160, -140, -120, -80, -60, -40, -20, 20, 40, 60, 80, 120, 140, 160, 180], "labels": false, "tickSize": -4, "grid": false, "title": "Y", "titleFontSize": 11, "titleX": 356, "titleY": 128, "titleAlign": "left", "titleBaseline": "alphabetic"}},
  "y": {"field": "r", "type": "quantitative", "scale": {"domain": [-0.55, 9.4], "nice": false, "zero": false}, "axis": {"orient": "right", "values": [-0.5, 0.5, 1, 1.5, 2.5, 3, 3.5, 4.5, 5, 5.5, 6.5, 7, 7.5, 8.5, 9], "labels": false, "tickSize": -5, "grid": false, "title": null}}
 }}
],
"resolve": {"axis": {"x": "independent", "y": "independent"}}
}
]
}
